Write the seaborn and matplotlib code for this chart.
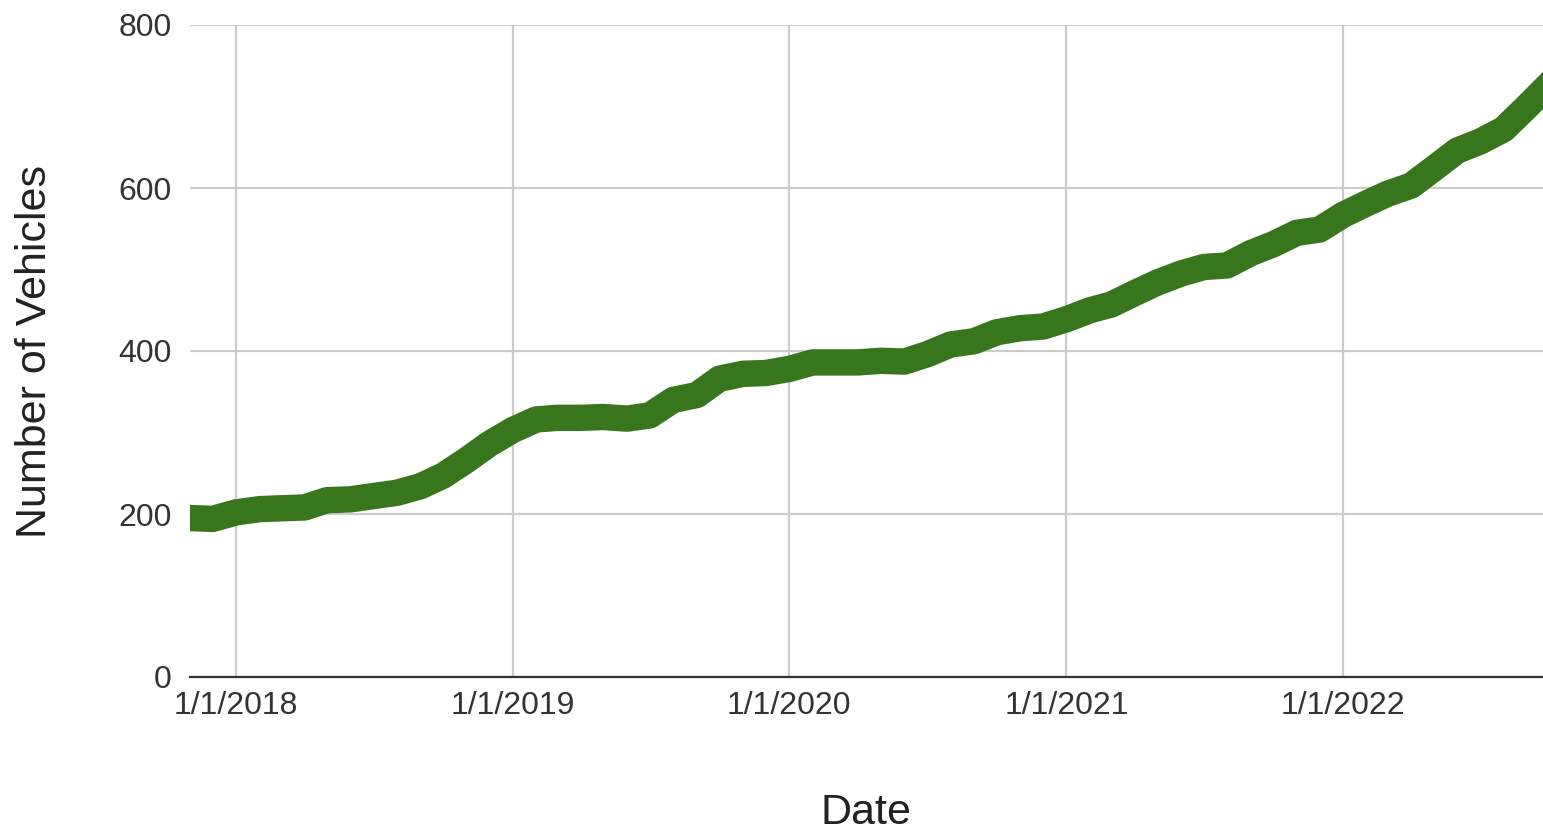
import pandas as pd
import matplotlib
matplotlib.use("Agg")
import matplotlib.pyplot as plt
import matplotlib.dates as mdates
import seaborn as sns

# monthly vehicle counts, Nov 2017 -> Oct 2022
start_month = "2017-11-01"
vehicles = [195, 194,
            202, 206, 207, 208, 217, 218, 222, 226, 234, 247, 266, 286,
            303, 316, 318, 318, 319, 317, 321, 340, 346, 366, 372, 373,
            378, 386, 386, 386, 388, 387, 396, 408, 412, 423, 428, 430,
            439, 450, 457, 471, 484, 495, 503, 505, 520, 531, 545, 549,
            567, 581, 593, 603, 624, 646, 657, 672, 700, 728]
tick_dates = ["2018-01-01", "2019-01-01", "2020-01-01", "2021-01-01", "2022-01-01"]
tick_labels = ["1/1/2018", "1/1/2019", "1/1/2020", "1/1/2021", "1/1/2022"]
y_ticks = [0, 200, 400, 600, 800]

df = pd.DataFrame({
    "Date": pd.date_range(start_month, periods=len(vehicles), freq="MS"),
    "Number of Vehicles": vehicles,
})

sns.set_style("white")
plt.rcParams["font.family"] = ["Liberation Sans", "DejaVu Sans"]

fig = plt.figure(figsize=(15.43, 8.31), dpi=100)
ax = fig.add_axes([190 / 1543, 154 / 831, 1353 / 1543, 652 / 831])

sns.lineplot(data=df, x="Date", y="Number of Vehicles", ax=ax,
             color="#38761d", linewidth=19, solid_joinstyle="round",
             solid_capstyle="projecting", zorder=3)

ax.set_xlim(pd.Timestamp("2017-11-01"), pd.Timestamp("2022-09-22"))
ax.set_ylim(0, 800)
ax.set_xticks([mdates.date2num(pd.Timestamp(d)) for d in tick_dates])
ax.set_xticklabels(tick_labels)
ax.set_yticks(y_ticks)
ax.set_yticklabels([str(v) for v in y_ticks])

ax.grid(True, color="#cccccc", linewidth=1.6)
ax.set_axisbelow(True)
for side in ["top", "right", "left"]:
    ax.spines[side].set_visible(False)
ax.spines["bottom"].set_color("#333333")
ax.spines["bottom"].set_linewidth(1.6)
ax.spines["bottom"].set_zorder(2)

ax.tick_params(axis="both", length=0, labelsize=23, labelcolor="#333333")
ax.tick_params(axis="y", pad=13)
ax.tick_params(axis="x", pad=10)

ax.set_xlabel("Date", fontsize=31, color="#222222", labelpad=52)
ax.set_ylabel("Number of Vehicles", fontsize=31, color="#222222", labelpad=46)

fig.savefig("out.png", dpi=100)
